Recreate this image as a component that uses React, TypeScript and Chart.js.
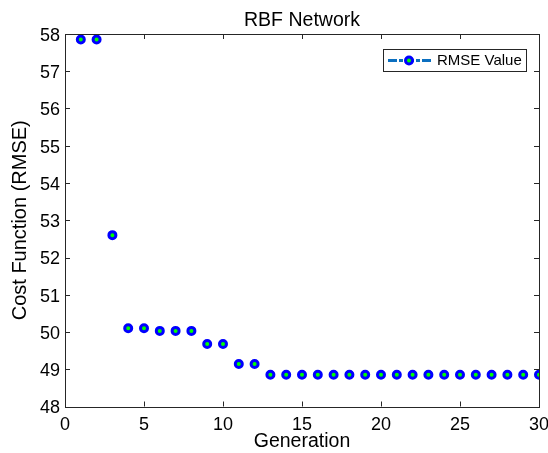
import React, { useEffect, useRef } from "react";
import { Chart, registerables } from "chart.js";

Chart.register(...registerables);

const generations = [1, 2, 3, 4, 5, 6, 7, 8, 9, 10, 11, 12, 13, 14, 15, 16, 17, 18, 19, 20, 21, 22, 23, 24, 25, 26, 27, 28, 29, 30];
const rmseValues = [57.85, 57.85, 52.6, 50.1, 50.1, 50.03, 50.03, 50.03, 49.68, 49.68, 49.14, 49.14, 48.85, 48.85, 48.85, 48.85, 48.85, 48.85, 48.85, 48.85, 48.85, 48.85, 48.85, 48.85, 48.85, 48.85, 48.85, 48.85, 48.85, 48.85];
const chartTitle = "RBF Network";
const xTitle = "Generation";
const yTitle = "Cost Function (RMSE)";
const legendLabel = "RMSE Value";

const FONT = "'Liberation Sans', Arial, Helvetica, sans-serif";
const AXIS_COLOR = "#262626";
const MARKER_EDGE = "#0000ff";
const MARKER_FACE = "#00ff00";
const LEGEND_LINE = "#0b6fc0";

const matlabPlugin = {
  id: "matlabBox",
  afterDraw(chart: any) {
    const ctx = chart.ctx;
    const { left, right, top, bottom } = chart.chartArea;
    const xs = chart.scales.x;
    const ys = chart.scales.y;
    ctx.save();
    ctx.strokeStyle = AXIS_COLOR;
    ctx.lineWidth = 1;
    ctx.strokeRect(Math.round(left) + 0.5, Math.round(top) + 0.5, Math.round(right - left), Math.round(bottom - top));
    const tl = 5;
    ctx.beginPath();
    xs.ticks.forEach((t: any) => {
      const px = Math.round(xs.getPixelForValue(t.value)) + 0.5;
      ctx.moveTo(px, bottom);
      ctx.lineTo(px, bottom - tl);
      ctx.moveTo(px, top);
      ctx.lineTo(px, top + tl);
    });
    ys.ticks.forEach((t: any) => {
      const py = Math.round(ys.getPixelForValue(t.value)) + 0.5;
      ctx.moveTo(left, py);
      ctx.lineTo(left + tl, py);
      ctx.moveTo(right, py);
      ctx.lineTo(right - tl, py);
    });
    ctx.stroke();

    ctx.fillStyle = "#000";
    ctx.font = `19.5px ${FONT}`;
    ctx.textAlign = "center";
    ctx.textBaseline = "middle";
    ctx.fillText(chartTitle, (left + right) / 2, 21);

    const bx = 383, by = 49, bw = 143, bh = 22;
    ctx.fillStyle = "#fff";
    ctx.fillRect(bx, by, bw, bh);
    ctx.strokeStyle = AXIS_COLOR;
    ctx.lineWidth = 1;
    ctx.strokeRect(bx + 0.5, by + 0.5, bw, bh);
    const ly = by + bh / 2 + 0.5;
    ctx.strokeStyle = LEGEND_LINE;
    ctx.lineWidth = 3;
    ctx.setLineDash([9, 2, 4, 2]);
    ctx.beginPath();
    ctx.moveTo(bx + 5, ly);
    ctx.lineTo(bx + 49, ly);
    ctx.stroke();
    ctx.setLineDash([]);
    const mx = bx + 26;
    ctx.beginPath();
    ctx.arc(mx, ly, 3.5, 0, Math.PI * 2);
    ctx.fillStyle = MARKER_FACE;
    ctx.fill();
    ctx.lineWidth = 3;
    ctx.strokeStyle = MARKER_EDGE;
    ctx.stroke();
    ctx.fillStyle = "#000";
    ctx.font = `15px ${FONT}`;
    ctx.textAlign = "left";
    ctx.textBaseline = "middle";
    ctx.fillText(legendLabel, bx + 54, ly);
    ctx.restore();
  },
};

export default function App() {
  const ref = useRef<HTMLCanvasElement | null>(null);
  useEffect(() => {
    if (!ref.current) return;
    const chart = new Chart(ref.current, {
      type: "scatter",
      data: {
        datasets: [
          {
            label: legendLabel,
            data: generations.map((g, i) => ({ x: g, y: rmseValues[i] })),
            showLine: false,
            pointRadius: 3.5,
            pointBorderWidth: 3,
            pointBorderColor: MARKER_EDGE,
            pointBackgroundColor: MARKER_FACE,
            pointHoverRadius: 3.5,
          },
        ],
      },
      options: {
        animation: false,
        responsive: false,
        maintainAspectRatio: false,
        devicePixelRatio: 1,
        layout: { padding: { top: 34, right: 9, left: 0, bottom: 0 } },
        plugins: {
          legend: { display: false },
          title: { display: false },
          tooltip: { enabled: false },
        },
        scales: {
          x: {
            type: "linear",
            min: 0,
            max: 30,
            border: { display: false },
            grid: { display: false, drawTicks: false },
            ticks: { stepSize: 5, color: "#000", padding: 8, font: { family: FONT, size: 18 }, maxRotation: 0 },
            title: { display: true, text: xTitle, color: "#000", font: { family: FONT, size: 19.5, lineHeight: 1.2 }, padding: 0 },
            afterFit: (s: any) => { s.height = 46.5; s.paddingLeft = 0; s.paddingRight = 0; },
          },
          y: {
            type: "linear",
            min: 48,
            max: 58,
            border: { display: false },
            grid: { display: false, drawTicks: false },
            ticks: { stepSize: 1, color: "#000", padding: 5, labelOffset: 2, font: { family: FONT, size: 18 } },
            title: { display: true, text: yTitle, color: "#000", font: { family: FONT, size: 20, lineHeight: 1.2 }, padding: { top: 8, bottom: 0 } },
            afterFit: (s: any) => { s.width = 65; s.paddingTop = 0; s.paddingBottom = 0; },
          },
        },
      },
      plugins: [matlabPlugin],
    });
    return () => chart.destroy();
  }, []);
  return (
    <div style={{ position: "fixed", left: 0, top: 0, width: 548, height: 453, background: "#fff" }}>
      <canvas ref={ref} width={548} height={453} style={{ display: "block" }} />
    </div>
  );
}
